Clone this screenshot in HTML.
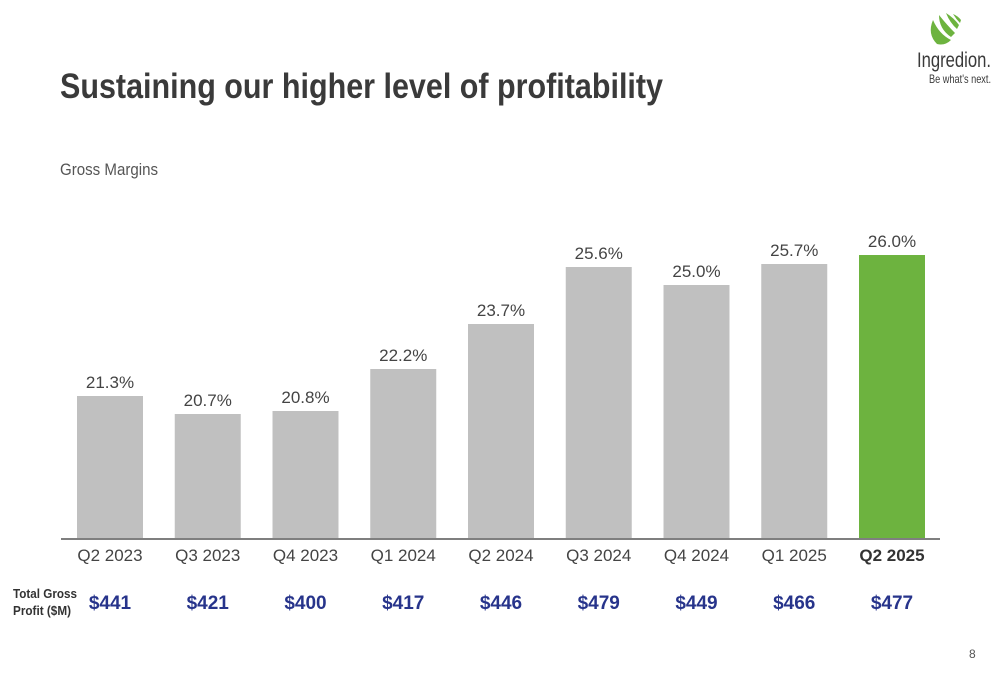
<!DOCTYPE html>
<html><head><meta charset="utf-8">
<style>
html,body{margin:0;padding:0;background:#fff;}
svg{display:block;font-family:"Liberation Sans Narrow","Liberation Sans",sans-serif;}
</style></head>
<body>
<svg id="chart" width="1000" height="685" viewBox="0 0 1000 685">
  <text x="60" y="98" font-size="35" font-weight="bold" fill="#3a3a3a" textLength="603" lengthAdjust="spacingAndGlyphs">Sustaining our higher level of profitability</text>
  <text x="60" y="175" font-size="17" fill="#555" textLength="98" lengthAdjust="spacingAndGlyphs">Gross Margins</text>
  <g>
    <g fill="#6db33f">
      <path d="M933 20 q-6 14 4 24 q8 2 14 -4 q-12 -6 -18 -20z"/>
      <path d="M939 15 q0 14 12 22 l4 -4 q-8 -8 -16 -18z"/>
      <path d="M946 13 q4 10 11 16 l2 -4 q-5 -7 -13 -12z"/>
      <path d="M953 14 q3 5 7 9 l1 -3 q-3 -4 -8 -6z"/>
    </g>
    <text x="917" y="67" font-size="21" fill="#3a3a3a" textLength="74" lengthAdjust="spacingAndGlyphs">Ingredion.</text>
    <text x="929" y="83" font-size="12" fill="#3a3a3a" textLength="62" lengthAdjust="spacingAndGlyphs">Be what's next.</text>
  </g>
  <line x1="61" y1="539" x2="940" y2="539" stroke="#555" stroke-width="1.5"/>
  <g id="bars"></g>
  <text x="13" y="598" font-size="13" font-weight="bold" fill="#333" textLength="64" lengthAdjust="spacingAndGlyphs">Total Gross</text>
  <text x="13" y="615" font-size="13" font-weight="bold" fill="#333" textLength="58" lengthAdjust="spacingAndGlyphs">Profit ($M)</text>
  <text x="969" y="658" font-size="12" fill="#555">8</text>
</svg>
<script>
const categories = ["Q2 2023","Q3 2023","Q4 2023","Q1 2024","Q2 2024","Q3 2024","Q4 2024","Q1 2025","Q2 2025"];
const margins = [21.3,20.7,20.8,22.2,23.7,25.6,25.0,25.7,26.0];
const profits = [441,421,400,417,446,479,449,466,477];
const NS="http://www.w3.org/2000/svg";
const g=document.getElementById('bars');
const base=538, pxPer=30, vMin=16.567;
function y(v){return base-(v-vMin)*pxPer;}
function xc(i){return 110+i*97.75;}
const bw=66;
categories.forEach((c,i)=>{
  const last=i===categories.length-1;
  const r=document.createElementNS(NS,'rect');
  r.setAttribute('x',xc(i)-bw/2);r.setAttribute('y',y(margins[i]));
  r.setAttribute('width',bw);r.setAttribute('height',base-y(margins[i]));
  r.setAttribute('fill',last?'#6db33f':'#c0c0c0');
  
  
  g.appendChild(r);
  const t=document.createElementNS(NS,'text');
  t.setAttribute('x',xc(i));t.setAttribute('y',y(margins[i])-8);
  t.setAttribute('text-anchor','middle');t.setAttribute('font-size','17');t.setAttribute('fill','#444');
  t.textContent=margins[i].toFixed(1)+'%';
  
  
  g.appendChild(t);
  const l=document.createElementNS(NS,'text');
  l.setAttribute('x',xc(i));l.setAttribute('y',561);
  l.setAttribute('text-anchor','middle');l.setAttribute('font-size','17');
  l.setAttribute('fill',last?'#333':'#444');if(last)l.setAttribute('font-weight','bold');
  l.textContent=c;
  
  
  g.appendChild(l);
  const p=document.createElementNS(NS,'text');
  p.setAttribute('x',xc(i));p.setAttribute('y',609);
  p.setAttribute('text-anchor','middle');p.setAttribute('font-size','19');p.setAttribute('font-weight','bold');
  p.setAttribute('fill','#27348b');
  p.textContent='$'+profits[i];
  
  
  g.appendChild(p);
});
</script>
</body></html>
